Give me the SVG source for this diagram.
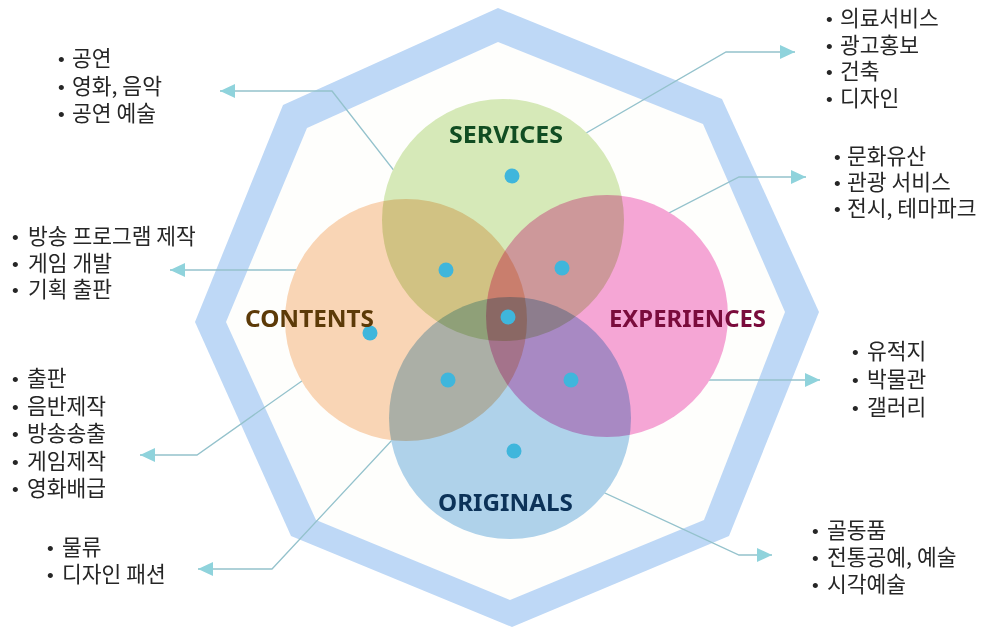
<svg xmlns="http://www.w3.org/2000/svg" width="1002" height="630" viewBox="0 0 1002 630">
<defs>
<style>
.lst{font-family:"Noto Sans CJK KR","Noto Sans",sans-serif;font-size:21.5px;fill:#262626}
.bul{font-family:"Liberation Sans",sans-serif;font-size:19px}
.lbl{font-family:"Noto Sans","Liberation Sans",sans-serif;font-size:24px;font-weight:700}
.con{fill:none;stroke:#94c2cc;stroke-width:1.3;marker-end:url(#ah)}
.dot{fill:#3fb6dc}
.cir{mix-blend-mode:multiply}
</style>
<marker id="ah" markerUnits="userSpaceOnUse" markerWidth="16" markerHeight="14" refX="15" refY="7" orient="auto">
<path d="M0,0 L15,7 L0,14 z" fill="#8fd3dc"/>
</marker>
</defs>
<rect width="1002" height="630" fill="#ffffff"/>
<g id="octagon">
<polygon points="498,8 722,99 819,312 729,536 512,627 291,536 195,322 283,105" fill="#bed8f6"/>
<polygon points="498,42 703,124 785,312 704,520 510,600 316,520 226,322 307,128" fill="#fefefc"/>
</g>
<g id="connectors">
<polyline class="con" points="508,317 332,91 220,91"/>
<polyline class="con" points="512,176 726,52 795,52"/>
<polyline class="con" points="562,268 739,177 806,177"/>
<polyline class="con" points="446,270 170,270"/>
<polyline class="con" points="370,333 197,455 140,455"/>
<polyline class="con" points="571,380 820,380"/>
<polyline class="con" points="448,380 272,569 198,569"/>
<polyline class="con" points="514,451 739,555 772,555"/>
</g>
<g id="circles" style="isolation:isolate">
<g id="services"><circle class="cir" cx="503" cy="220" r="121" fill="#d6e9b8"/></g>
<g id="contents"><circle class="cir" cx="406" cy="320" r="121" fill="#f9d5b5"/></g>
<g id="experiences"><circle class="cir" cx="607" cy="316" r="121" fill="#f5a6d5"/></g>
<g id="originals"><circle class="cir" cx="510" cy="418" r="121" fill="#afd2ea"/></g>
</g>
<g id="dots">
<circle class="dot" cx="512" cy="176" r="7.5"/>
<circle class="dot" cx="446" cy="270" r="7.5"/>
<circle class="dot" cx="562" cy="268" r="7.5"/>
<circle class="dot" cx="508" cy="317" r="7.5"/>
<circle class="dot" cx="370" cy="333" r="7.5"/>
<circle class="dot" cx="448" cy="380" r="7.5"/>
<circle class="dot" cx="571" cy="380" r="7.5"/>
<circle class="dot" cx="514" cy="451" r="7.5"/>
</g>
<g id="labels">
<text class="lbl" x="449" y="143" fill="#114d22" textLength="114" lengthAdjust="spacingAndGlyphs">SERVICES</text>
<text class="lbl" x="245" y="327" fill="#5c3a08" textLength="129" lengthAdjust="spacingAndGlyphs">CONTENTS</text>
<text class="lbl" x="609" y="327" fill="#7a0c3c" textLength="157" lengthAdjust="spacingAndGlyphs">EXPERIENCES</text>
<text class="lbl" x="438" y="511" fill="#0c3258" textLength="135" lengthAdjust="spacingAndGlyphs">ORIGINALS</text>
</g>
<g id="list-contents-top">
<text class="lst"><tspan class="bul" x="58" y="66">•</tspan><tspan x="72" y="66">공연</tspan><tspan class="bul" x="58" y="93.5">•</tspan><tspan x="72" y="93.5">영화, 음악</tspan><tspan class="bul" x="58" y="121">•</tspan><tspan x="72" y="121">공연 예술</tspan></text>
</g>
<g id="list-services">
<text class="lst"><tspan class="bul" x="826" y="26">•</tspan><tspan x="840" y="26">의료서비스</tspan><tspan class="bul" x="826" y="52.5">•</tspan><tspan x="840" y="52.5">광고홍보</tspan><tspan class="bul" x="826" y="79">•</tspan><tspan x="840" y="79">건축</tspan><tspan class="bul" x="826" y="105.5">•</tspan><tspan x="840" y="105.5">디자인</tspan></text>
</g>
<g id="list-experiences-top">
<text class="lst"><tspan class="bul" x="834" y="164">•</tspan><tspan x="847" y="164">문화유산</tspan><tspan class="bul" x="834" y="190">•</tspan><tspan x="847" y="190">관광 서비스</tspan><tspan class="bul" x="834" y="216">•</tspan><tspan x="847" y="216">전시, 테마파크</tspan></text>
</g>
<g id="list-contents-mid">
<text class="lst"><tspan class="bul" x="12" y="244">•</tspan><tspan x="28" y="244">방송 프로그램 제작</tspan><tspan class="bul" x="12" y="270.5">•</tspan><tspan x="28" y="270.5">게임 개발</tspan><tspan class="bul" x="12" y="297">•</tspan><tspan x="28" y="297">기획 출판</tspan></text>
</g>
<g id="list-experiences-mid">
<text class="lst"><tspan class="bul" x="852" y="359">•</tspan><tspan x="867" y="359">유적지</tspan><tspan class="bul" x="852" y="387">•</tspan><tspan x="867" y="387">박물관</tspan><tspan class="bul" x="852" y="415">•</tspan><tspan x="867" y="415">갤러리</tspan></text>
</g>
<g id="list-contents-low">
<text class="lst"><tspan class="bul" x="12" y="386">•</tspan><tspan x="27" y="386">출판</tspan><tspan class="bul" x="12" y="413.5">•</tspan><tspan x="27" y="413.5">음반제작</tspan><tspan class="bul" x="12" y="441">•</tspan><tspan x="27" y="441">방송송출</tspan><tspan class="bul" x="12" y="468.5">•</tspan><tspan x="27" y="468.5">게임제작</tspan><tspan class="bul" x="12" y="496">•</tspan><tspan x="27" y="496">영화배급</tspan></text>
</g>
<g id="list-originals-left">
<text class="lst"><tspan class="bul" x="47" y="555">•</tspan><tspan x="62" y="555">물류</tspan><tspan class="bul" x="47" y="582">•</tspan><tspan x="62" y="582">디자인 패션</tspan></text>
</g>
<g id="list-originals-right">
<text class="lst"><tspan class="bul" x="812" y="538">•</tspan><tspan x="827" y="538">골동품</tspan><tspan class="bul" x="812" y="565">•</tspan><tspan x="827" y="565">전통공예, 예술</tspan><tspan class="bul" x="812" y="592">•</tspan><tspan x="827" y="592">시각예술</tspan></text>
</g>
</svg>
